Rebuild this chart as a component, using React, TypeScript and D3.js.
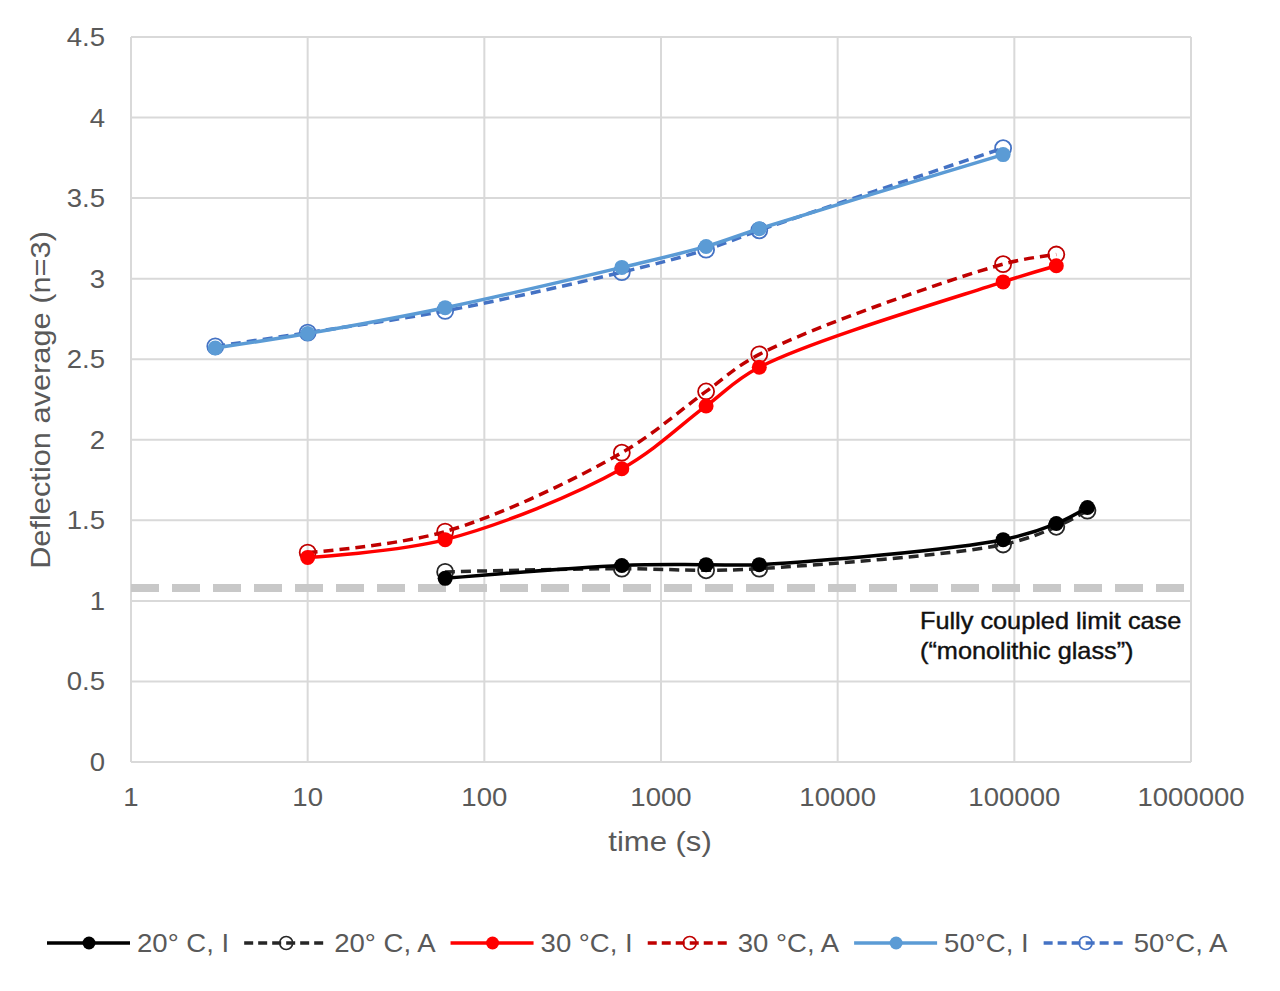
import React, { useEffect, useRef } from "react";
import * as d3 from "d3";

const times20 = [60, 600, 1800, 3600, 86400, 172800, 259200];
const times30 = [10, 60, 600, 1800, 3600, 86400, 172800];
const times50 = [3, 10, 60, 600, 1800, 3600, 86400];

const v20I = [1.14, 1.22, 1.225, 1.225, 1.38, 1.48, 1.58];
const v20A = [1.18, 1.2, 1.19, 1.2, 1.35, 1.46, 1.56];
const v30I = [1.27, 1.38, 1.82, 2.21, 2.45, 2.98, 3.08];
const v30A = [1.3, 1.43, 1.92, 2.3, 2.53, 3.09, 3.15];
const v50I = [2.57, 2.66, 2.82, 3.07, 3.2, 3.31, 3.77];
const v50A = [2.58, 2.665, 2.8, 3.04, 3.18, 3.3, 3.81];

const limitValue = 1.08;

const seriesNames = ["20° C, I", "20° C, A", "30 °C, I", "30 °C, A", "50°C, I", "50°C, A"];
const seriesColors = ["#000000", "#262626", "#ff0000", "#c00000", "#5b9bd5", "#4472c4"];
const seriesDashed = [false, true, false, true, false, true];

const xTicks = [1, 10, 100, 1000, 10000, 100000, 1000000];
const yTicks = [0, 0.5, 1, 1.5, 2, 2.5, 3, 3.5, 4, 4.5];

const annotationLines = ["Fully coupled limit case", "(\u201cmonolithic glass\u201d)"];

const FONT = "'Liberation Sans', Arial, sans-serif";
const SX = 1.1;

export default function App() {
  const ref = useRef<SVGSVGElement | null>(null);

  useEffect(() => {
    const svg = d3.select(ref.current);
    svg.selectAll("*").remove();

    const addText = (g: any, tx: number, ty: number, str: string, size: number, anchor: string, fill: string, sx = SX) => {
      return g.append("text")
        .attr("transform", `translate(${tx},${ty}) scale(${sx},1)`)
        .attr("text-anchor", anchor)
        .attr("font-family", FONT).attr("font-size", size).attr("fill", fill).text(str);
    };

    const left = 131, right = 1191, top = 37, bottom = 762;
    const x = d3.scaleLog().domain([1, 1000000]).range([left, right]);
    const y = d3.scaleLinear().domain([0, 4.5]).range([bottom, top]);

    const grid = svg.append("g");
    yTicks.forEach((t) => {
      grid.append("line").attr("x1", left).attr("x2", right).attr("y1", y(t)).attr("y2", y(t))
        .attr("stroke", "#d9d9d9").attr("stroke-width", 2);
    });
    xTicks.forEach((t) => {
      grid.append("line").attr("x1", x(t)).attr("x2", x(t)).attr("y1", top).attr("y2", bottom)
        .attr("stroke", "#d9d9d9").attr("stroke-width", 2);
    });

    yTicks.forEach((t) => {
      addText(svg, 105, y(t) + 9, String(t), 26, "end", "#595959", 1.06);
    });
    xTicks.forEach((t) => {
      addText(svg, x(t), 806, String(t), 26, "middle", "#595959", 1.06);
    });

    svg.append("text").attr("transform", `translate(50,400) rotate(-90) scale(1.14,1)`).attr("text-anchor", "middle")
      .attr("font-family", FONT).attr("font-size", 27).attr("fill", "#595959")
      .text("Deflection average (n=3)");
    addText(svg, 660, 851, "time (s)", 27, "middle", "#595959", 1.15);

    svg.append("line").attr("x1", left).attr("x2", right).attr("y1", y(limitValue)).attr("y2", y(limitValue))
      .attr("stroke", "#c8c8c8").attr("stroke-width", 8).attr("stroke-dasharray", "28,13");

    annotationLines.forEach((s, i) => {
      addText(svg, 920, 629 + i * 30, s, 23, "start", "#111", 1.1)
        .attr("stroke", "#111").attr("stroke-width", 0.4);
    });

    const data = [
      { t: times20, v: v20I }, { t: times20, v: v20A },
      { t: times30, v: v30I }, { t: times30, v: v30A },
      { t: times50, v: v50I }, { t: times50, v: v50A },
    ];

    const line = d3.line<[number, number]>().x((d) => x(d[0])).y((d) => y(d[1]))
      .curve(d3.curveCatmullRom.alpha(0.5));

    const order = [5, 4, 1, 0, 3, 2];
    order.forEach((i) => {
      const s = data[i];
      const pts: [number, number][] = s.t.map((t, k) => [t, s.v[k]]);
      svg.append("path").attr("d", line(pts) as string).attr("fill", "none")
        .attr("stroke", seriesColors[i]).attr("stroke-width", 3.5)
        .attr("stroke-dasharray", seriesDashed[i] ? "10,6" : null);
      pts.forEach((p) => {
        const c = svg.append("circle").attr("cx", x(p[0])).attr("cy", y(p[1]));
        if (seriesDashed[i]) c.attr("r", 8).attr("fill", "none").attr("stroke", seriesColors[i]).attr("stroke-width", 1.8);
        else c.attr("r", 7.5).attr("fill", seriesColors[i]);
      });
    });

    const leg = svg.append("g");
    let cx = 47;
    const ly = 943;
    seriesNames.forEach((name, i) => {
      leg.append("line").attr("x1", cx).attr("x2", cx + 83).attr("y1", ly).attr("y2", ly)
        .attr("stroke", seriesColors[i]).attr("stroke-width", 3.5)
        .attr("stroke-dasharray", seriesDashed[i] ? "9,5" : null);
      const c = leg.append("circle").attr("cx", cx + 42).attr("cy", ly).attr("r", 6.5);
      if (seriesDashed[i]) c.attr("fill", "none").attr("stroke", seriesColors[i]).attr("stroke-width", 1.6);
      else c.attr("fill", seriesColors[i]);
      const txt = addText(leg, cx + 90, ly + 9, name, 26, "start", "#595959", 1.06);
      const w = (txt.node() as SVGTextElement).getComputedTextLength() * 1.06;
      cx = cx + 90 + w + 15;
    });
  }, []);

  return (
    <svg
      ref={ref}
      width={1280}
      height={991}
      style={{ display: "block", position: "absolute", left: 0, top: 0, background: "#fff" }}
    />
  );
}
